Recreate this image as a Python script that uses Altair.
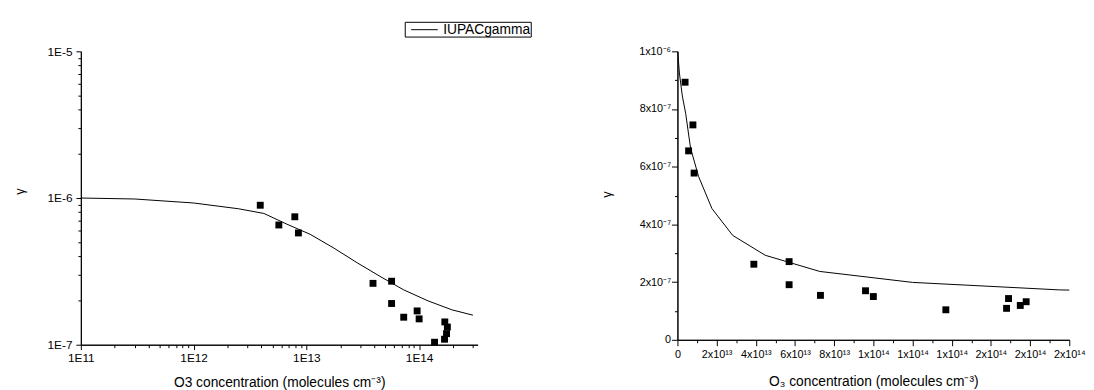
import altair as alt
import pandas as pd

# ---- measured points (O3 concentration, uptake coefficient gamma) ----
o3_conc = [3.9e12, 5.7e12, 7.9e12, 8.5e12, 3.9e13, 5.7e13, 5.7e13, 7.3e13,
           9.6e13, 1.0e14, 1.37e14, 1.69e14, 1.68e14, 1.78e14, 1.75e14]
gamma_meas = [8.93e-7, 6.55e-7, 7.45e-7, 5.78e-7, 2.62e-7, 2.71e-7, 1.91e-7, 1.54e-7,
              1.70e-7, 1.50e-7, 1.04e-7, 1.43e-7, 1.09e-7, 1.32e-7, 1.19e-7]

# ---- IUPAC gamma curve ----
series_name = "IUPACgamma"
curve_o3 = [1e11, 3e11, 1e12, 2.5e12, 4.2e12, 6.7e12, 1.08e13, 1.76e13, 2.82e13,
            4.48e13, 7.26e13, 1.2e14, 1.95e14, 3.0e14]
curve_gamma = [1.0e-6, 9.85e-7, 9.25e-7, 8.45e-7, 7.85e-7, 6.64e-7, 5.66e-7, 4.55e-7,
               3.62e-7, 2.93e-7, 2.37e-7, 1.99e-7, 1.73e-7, 1.59e-7]

# ---- tick values / labels ----
log_major_x = [1e11, 1e12, 1e13, 1e14]
log_minor_x = [m * 10.0 ** e for e in (11, 12, 13) for m in range(2, 10)] + [2e14, 3e14]
log_major_y = [1e-7, 1e-6, 1e-5]
log_minor_y = [m * 10.0 ** e for e in (-7, -6) for m in range(2, 10)]

lin_major_x = [0, 2e13, 4e13, 6e13, 8e13, 1e14, 1.2e14, 1.4e14, 1.6e14, 1.8e14, 2e14]
lin_minor_x = [1e13, 3e13, 5e13, 7e13, 9e13, 1.1e14, 1.3e14, 1.5e14, 1.7e14, 1.9e14]
lin_x_labels = ["0", "2x10¹³", "4x10¹³", "6x10¹³", "8x10¹³", "1x10¹⁴",
                "1x10¹⁴", "1x10¹⁴", "2x10¹⁴", "2x10¹⁴", "2x10¹⁴"]
lin_major_y = [0, 2e-7, 4e-7, 6e-7, 8e-7, 1e-6]
lin_minor_y = [1e-7, 3e-7, 5e-7, 7e-7, 9e-7]
lin_y_labels = ["0", "2x10⁻⁷", "4x10⁻⁷", "6x10⁻⁷", "8x10⁻⁷", "1x10⁻⁶"]

pts = pd.DataFrame({"o3": o3_conc, "gamma": gamma_meas})
crv = pd.DataFrame({"o3": curve_o3, "gamma": curve_gamma,
                    "series": [series_name] * len(curve_o3)})

FONT = "Liberation Sans"


def arr_expr(labels, step):
    items = ",".join("'" + s + "'" for s in labels)
    return "[" + items + "][round(datum.value/" + repr(step) + ")]"


def major_axis(orient, values, label_expr, title, tick, pad, lsize, **kw):
    return alt.Axis(orient=orient, values=values, labelExpr=label_expr, title=title,
                    tickSize=tick, labelPadding=pad, labelFontSize=lsize,
                    labelFont=FONT, titleFont=FONT, titleFontWeight="normal",
                    labelColor="black", titleColor="black", tickColor="black",
                    domainColor="black", grid=False, labelOverlap=False,
                    labelFlush=False, **kw)


def minor_axis(orient, values, tick=3):
    return alt.Axis(orient=orient, values=values, labels=False, title=None,
                    tickSize=tick, tickColor="black", domainColor="black", grid=False)


# ---------------- left: log-log ----------------
LW, LH = 403, 298
lx = alt.Scale(type="log", domain=[1e11, 3.3e14], nice=False)
ly = alt.Scale(type="log", domain=[1e-7, 1e-5], nice=False)

left_pts = alt.Chart(pts).mark_square(size=49, color="black", opacity=1).encode(
    x=alt.X("o3:Q", scale=lx, axis=major_axis(
        "bottom", log_major_x, "'1E' + round(log(datum.value)/LN10)",
        "O3 concentration (molecules cm⁻³)", 5, 3.5, 12,
        titleFontSize=14, titleY=42, titleBaseline="alphabetic")),
    y=alt.Y("gamma:Q", scale=ly, axis=major_axis(
        "left", log_major_y, "'1E' + round(log(datum.value)/LN10)",
        "γ", 5, 4, 12, titleFontSize=13, titleX=-62, titleY=142,
        titleAngle=270, titleBaseline="middle", titleAlign="center")),
)
left_line = alt.Chart(crv).mark_line(strokeWidth=1).encode(
    x=alt.X("o3:Q", scale=lx, axis=minor_axis("bottom", log_minor_x)),
    y=alt.Y("gamma:Q", scale=ly, axis=minor_axis("left", log_minor_y)),
    color=alt.Color("series:N", scale=alt.Scale(domain=[series_name], range=["black"]),
                    legend=alt.Legend(orient="none", legendX=329, legendY=-30,
                                      title=None, strokeColor="black", padding=0,
                                      symbolType="M-1.8,0H1.8", symbolSize=225,
                                      symbolStrokeWidth=1, symbolOffset=12,
                                      labelFontSize=14, labelFont=FONT,
                                      labelColor="black", labelOffset=11)),
)
left = alt.layer(left_pts, left_line).resolve_axis(x="independent", y="independent").properties(
    width=LW, height=LH)

# ---------------- right: linear ----------------
RW, RH = 398, 293
rx = alt.Scale(domain=[0, 2e14], nice=False, zero=True)
ry = alt.Scale(domain=[0, 1e-6], nice=False, zero=True)

right_pts = alt.Chart(pts).mark_square(size=49, color="black", opacity=1).encode(
    x=alt.X("o3:Q", scale=rx, axis=major_axis(
        "bottom", lin_major_x, arr_expr(lin_x_labels, 2e13),
        "O₃ concentration (molecules cm⁻³)", 6, 3, 11,
        titleFontSize=14, titleY=46, titleBaseline="alphabetic")),
    y=alt.Y("gamma:Q", scale=ry, axis=major_axis(
        "left", lin_major_y, arr_expr(lin_y_labels, 2e-7),
        "γ", 6, 1, 11, titleFontSize=13, titleX=-72, titleY=145,
        titleAngle=270, titleBaseline="middle", titleAlign="center")),
)
right_line = alt.Chart(crv).mark_line(strokeWidth=1, color="black", clip=True).encode(
    x=alt.X("o3:Q", scale=rx, axis=minor_axis("bottom", lin_minor_x)),
    y=alt.Y("gamma:Q", scale=ry, axis=minor_axis("left", lin_minor_y)),
)
right = alt.layer(right_pts, right_line).resolve_axis(x="independent", y="independent").properties(
    width=RW, height=RH)

chart = alt.hconcat(left, right, spacing=125).properties(
    padding={"left": 6, "top": 10, "right": 0, "bottom": 0}
).configure(font=FONT).configure_view(stroke=None)

chart.save("out.html", embed_options={"renderer": "svg", "actions": False})
